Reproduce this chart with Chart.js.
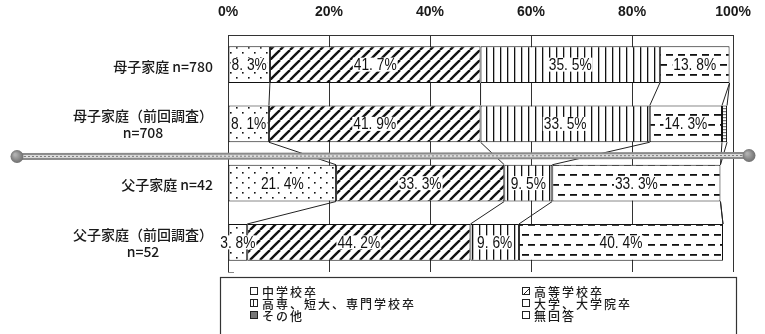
<!DOCTYPE html>
<html><head><meta charset="utf-8">
<script src="https://cdn.jsdelivr.net/npm/chart.js@4/dist/chart.umd.min.js"></script>
<style>html,body{margin:0;padding:0;background:#fff;overflow:hidden}#wrap{position:relative;width:765px;height:334px}</style>
</head><body><div id="wrap"><canvas id="c" width="765" height="334"></canvas></div>
<script>
// ---- data ----
const categories = [['母子家庭 n=780'], ['母子家庭（前回調査）', 'n=708'], ['父子家庭 n=42'], ['父子家庭（前回調査）', 'n=52']];
const seriesNames = ['中学校卒', '高等学校卒', '高専、短大、専門学校卒', '大学、大学院卒', 'その他', '無回答'];
const juniorHigh = [8.3, 8.1, 21.4, 3.8];
const highSchool = [41.7, 41.9, 33.3, 44.2];
const college = [35.5, 33.5, 9.5, 9.6];
const university = [13.8, 14.3, 33.3, 40.4];
const other = [0.0, 1.0, 0.0, 0.0];
const noAnswer = [0.7, 1.2, 2.4, 1.9];
const tickLabels = ['0%', '20%', '40%', '60%', '80%', '100%'];
const seriesValues = [juniorHigh, highSchool, college, university, other, noAnswer];

// ---- patterns ----
function tile(w, h, draw) {
  const c = document.createElement('canvas'); c.width = w; c.height = h;
  const g = c.getContext('2d'); g.fillStyle = '#fff'; g.fillRect(0, 0, w, h);
  draw(g); return g.createPattern(c, 'repeat');
}
const patterns = [
  tile(12, 10, g => { g.fillStyle = '#111'; g.fillRect(2, 2, 1.6, 1.6); g.fillRect(8, 7, 1.6, 1.6); }),
  tile(10, 10, g => { g.strokeStyle = '#111'; g.lineWidth = 2.4;
    for (const o of [-10, 0, 10]) { g.beginPath(); g.moveTo(o, 10); g.lineTo(o + 10, 0); g.stroke(); } }),
  tile(7, 7, g => { g.fillStyle = '#111'; g.fillRect(3, 0, 1.3, 7); }),
  tile(12, 20, g => { g.fillStyle = '#111'; g.fillRect(0, 4, 7, 1.8); g.fillRect(6, 14, 6, 1.8); g.fillRect(0, 14, 1, 1.8); }),
  tile(3, 3, g => { g.fillStyle = '#777'; g.fillRect(0, 0, 3, 1.2); }),
  '#ffffff'
];
const legendIcons = ['#fff', '#fff', '#fff', '#fff', '#777', '#fff'];

// ---- plugin: labels, series lines, legend, decorations ----
const fmt = v => v.toFixed(1).replace('.', '. ') + '%';
function drawScaled(ctx, text, x, y, sx) {
  ctx.save(); ctx.translate(x, y); ctx.scale(sx, 1); ctx.fillText(text, 0, 0); ctx.restore();
}
const deco = {
  id: 'deco',
  afterDatasetsDraw(chart) {
    const ctx = chart.ctx, xs = chart.scales.x;
    const metas = seriesValues.map((_, i) => chart.getDatasetMeta(i));
    // series lines
    ctx.save(); ctx.strokeStyle = '#222'; ctx.lineWidth = 1;
    for (let r = 0; r < categories.length - 1; r++) {
      let s1 = 0, s2 = 0;
      const b1 = metas[0].data[r], b2 = metas[0].data[r + 1];
      const yb = b1.y + b1.height / 2, yt = b2.y - b2.height / 2;
      for (let k = 0; k < seriesValues.length - 1; k++) {
        s1 += seriesValues[k][r]; s2 += seriesValues[k][r + 1];
        ctx.beginPath(); ctx.moveTo(xs.getPixelForValue(s1), yb); ctx.lineTo(xs.getPixelForValue(s2), yt); ctx.stroke();
      }
    }
    ctx.restore();
    // value labels
    ctx.save(); ctx.textAlign = 'center'; ctx.textBaseline = 'middle';
    ctx.font = '16px "Liberation Sans Narrow", "Liberation Sans", sans-serif';
    metas.forEach((m, k) => {
      m.data.forEach((bar, r) => {
        const v = seriesValues[k][r]; if (v < 3) return;
        const t = fmt(v); const sx = 0.86;
        const w = ctx.measureText(t).width * sx;
        ctx.fillStyle = '#fff'; ctx.fillRect(bar.base + (bar.x - bar.base) / 2 - w / 2 - 1, bar.y - 7, w + 2, 14);
        ctx.fillStyle = '#111'; drawScaled(ctx, t, (bar.x + bar.base) / 2, bar.y + 1, sx);
      });
    });
    ctx.restore();
  },
  afterDraw(chart) {
    const ctx = chart.ctx, ys = chart.scales.y, ca = chart.chartArea;
    // category labels
    ctx.save(); ctx.fillStyle = '#1a1a1a'; ctx.textBaseline = 'middle';
    ctx.font = '500 14px "Noto Sans CJK JP", sans-serif';
    categories.forEach((lab, i) => {
      const yc = ys.getPixelForValue(i); const xr = 213;
      if (lab.length === 1) { ctx.textAlign = 'right'; ctx.fillText(lab[0], xr, yc + 2); }
      else {
        const w = ctx.measureText(lab[0]).width;
        ctx.textAlign = 'right'; ctx.fillText(lab[0], xr, yc - 8);
        ctx.textAlign = 'center'; ctx.fillText(lab[1], xr - w / 2, yc + 9);
      }
    });
    ctx.restore();
    // bottom frame corner
    ctx.save(); ctx.strokeStyle = '#888'; ctx.lineWidth = 1;
    ctx.beginPath(); ctx.moveTo(ca.left, ca.bottom + 0.5); ctx.lineTo(ca.left + 6, ca.bottom + 0.5); ctx.stroke();
    ctx.restore();
    // legend
    ctx.save(); ctx.strokeStyle = '#333'; ctx.lineWidth = 1.2;
    ctx.strokeRect(220.5, 277.5, 516, 70);
    const colX = [250, 522], rowY = [291, 303, 315];
    ctx.font = '500 12px "Noto Sans CJK JP", sans-serif'; ctx.textBaseline = 'middle'; ctx.textAlign = 'left';
    seriesNames.forEach((n, i) => {
      const x = colX[i % 2], y = rowY[Math.floor(i / 2)];
      ctx.fillStyle = legendIcons[i]; ctx.fillRect(x, y - 4, 8, 8);
      ctx.strokeStyle = '#222'; ctx.lineWidth = 1; ctx.strokeRect(x + 0.5, y - 3.5, 7, 7);
      if (i === 1) { ctx.beginPath(); ctx.moveTo(x + 2, y + 3); ctx.lineTo(x + 7, y - 2); ctx.stroke(); }
      if (i === 2) { ctx.beginPath(); ctx.moveTo(x + 3.5, y - 3); ctx.lineTo(x + 3.5, y + 3); ctx.stroke(); }
      ctx.fillStyle = '#1a1a1a'; ctx.letterSpacing = '2px'; ctx.fillText(n, x + 12, y + 1);
    });
    ctx.restore();
    // binding wire decoration
    ctx.save(); ctx.lineCap = 'butt';
    const line = () => { ctx.beginPath(); ctx.moveTo(20, 156.5); ctx.lineTo(746, 155.5); ctx.stroke(); };
    ctx.strokeStyle = '#8a8a8a'; ctx.lineWidth = 7; line();
    ctx.strokeStyle = '#dcdcdc'; ctx.lineWidth = 3; line();
    ctx.strokeStyle = '#7a7a7a'; ctx.lineWidth = 1; ctx.setLineDash([2, 2]); line(); ctx.setLineDash([]);
    for (const [bx, by] of [[17, 156.5], [749, 155.5]]) {
      const gr = ctx.createRadialGradient(bx - 2, by - 2, 1, bx, by, 7);
      gr.addColorStop(0, '#b0b0b0'); gr.addColorStop(1, '#6a6a6a');
      ctx.fillStyle = gr; ctx.beginPath(); ctx.arc(bx, by, 6.5, 0, Math.PI * 2); ctx.fill();
    }
    ctx.restore();
  }
};

new Chart(document.getElementById('c'), {
  type: 'bar',
  data: {
    labels: categories.map(c => c.join(' ')),
    datasets: seriesNames.map((n, i) => ({
      label: n, data: seriesValues[i], backgroundColor: patterns[i],
      borderColor: '#111', borderWidth: i === 5 ? 0 : 1, borderSkipped: false,
      barPercentage: 0.62, categoryPercentage: 1.0
    }))
  },
  options: {
    indexAxis: 'y', responsive: false, animation: false,
    layout: { padding: { left: 228, right: 29, top: 0, bottom: 62 } },
    scales: {
      x: {
        position: 'top', stacked: true, min: 0, max: 100,
        ticks: { stepSize: 20, callback: (v) => tickLabels[Math.round(v / 20)], color: '#1a1a1a', padding: 14,
          font: { family: '"Liberation Sans Narrow", "Liberation Sans", sans-serif', size: 14, weight: 'bold' } },
        grid: { color: '#333', lineWidth: 1, drawTicks: false },
        border: { display: true, color: '#333' },
        afterFit(s) { s.height = 35; }
      },
      y: { stacked: true, display: false }
    },
    plugins: { legend: { display: false }, tooltip: { enabled: false } }
  },
  plugins: [deco]
});
</script>
</body></html>
